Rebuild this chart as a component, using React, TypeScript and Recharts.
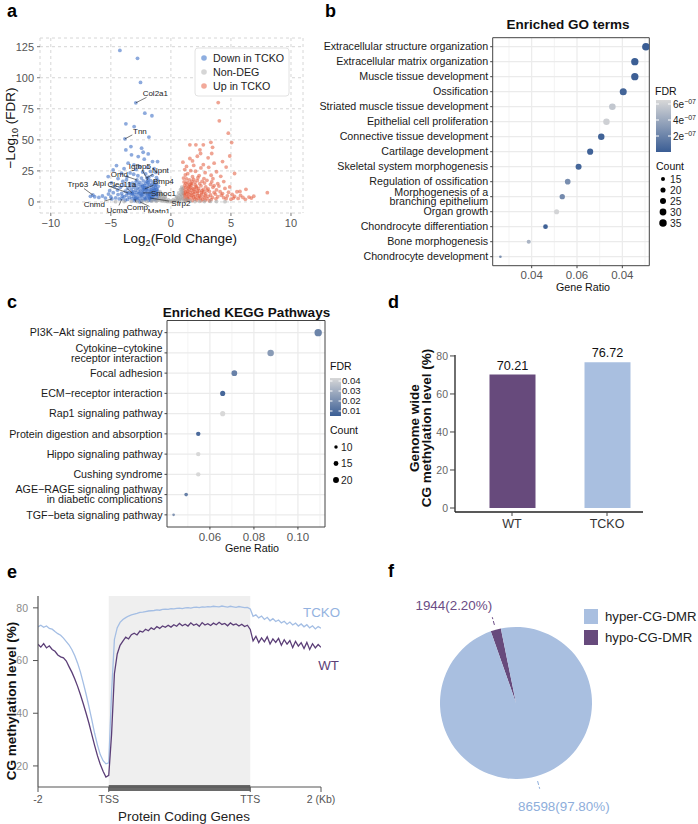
import React from 'react';
import {
  ScatterChart,
  Scatter,
  XAxis,
  YAxis,
  ZAxis,
  CartesianGrid,
  ReferenceArea,
  ReferenceLine,
  BarChart,
  Bar,
  LabelList,
  Cell,
  LineChart,
  Line,
  PieChart,
  Pie,
} from 'recharts';

const FONT = '"Liberation Sans", Arial, Helvetica, sans-serif';
const PURPLE = '#674a7c';
const LIGHT_BLUE = '#a9bfe0';

// ---------- a: volcano ----------
const FC_TICKS = [-10, -5, 0, 5, 10];
const LFDR_TICKS = [0, 25, 50, 75, 100, 125];

const DOWN_POINTS: [number, number][] = [
  [-4.25, 122], [-2.78, 115.6], [-2.53, 96.2], [-2.17, 71.5], [-1.58, 69.4], [-3.75, 62.9],
  [-3.06, 60.7], [-1.83, 52.2], [-3.33, 44.6], [-2.44, 43.3], [-2.31, 40], [-1.89, 38.7],
  [-3.28, 37.9], [-3.75, 41.9], [-2.72, 36.5], [-2.22, 34.4], [-1.53, 32.5], [-1.11, 32.5],
  [-4.53, 29.3], [-3.56, 31.2], [-3.08, 29.9], [-5.22, 20.4], [-4.81, 25.8], [-4.11, 23.1],
  [-2.6, 28.5], [-1.95, 27.8], [-1.4, 26.9], [-2.9, 26.2], [-3.9, 26.8], [-1.7, 24.6],
  [-2.35, 24.1], [-3.4, 23.4], [-1.25, 23.8], [-4.4, 18.8], [-3.1, 22.3], [-2.1, 22.6],
  [-1.55, 21.4], [-2.75, 21.1], [-3.65, 20.2], [-4.95, 15.3], [-1.2, 19.6], [-1.85, 19.9],
  [-2.45, 19.2],
  [-1.1, 17.5], [-1.4, 16.8], [-1.7, 17.2], [-2.0, 16.4], [-2.3, 16.9], [-2.6, 15.8],
  [-2.9, 16.2], [-3.2, 15.1], [-1.2, 14.6], [-1.5, 15.2], [-1.8, 14.3], [-2.1, 14.9],
  [-2.4, 13.8], [-2.7, 14.2], [-3.0, 13.4], [-3.4, 12.8], [-1.05, 12.6], [-1.3, 13.1],
  [-1.6, 12.2], [-1.9, 12.8], [-2.2, 11.7], [-2.5, 12.3], [-2.8, 11.4], [-3.1, 11.9],
  [-3.6, 10.8], [-1.15, 10.4], [-1.45, 11.0], [-1.75, 10.1], [-2.05, 10.7], [-2.35, 9.8],
  [-2.65, 10.3], [-2.95, 9.4], [-3.3, 9.9], [-3.8, 8.6], [-1.1, 8.5], [-1.35, 9.1],
  [-1.65, 8.2], [-1.95, 8.8], [-2.25, 7.9], [-2.55, 8.4], [-2.85, 7.6], [-3.15, 8.1],
  [-3.5, 7.3], [-4.1, 6.8], [-1.2, 6.6], [-1.5, 7.1], [-1.8, 6.3], [-2.1, 6.9],
  [-2.4, 6.0], [-2.7, 6.5], [-3.0, 5.8], [-3.3, 6.2], [-3.7, 5.4], [-4.4, 5.9],
  [-1.05, 4.8], [-1.3, 5.3], [-1.6, 4.5], [-1.9, 5.0], [-2.2, 4.2], [-2.5, 4.7],
  [-2.8, 4.0], [-3.1, 4.4], [-3.45, 3.7], [-3.9, 4.1], [-1.15, 3.0], [-1.45, 3.4],
  [-1.75, 2.7], [-2.05, 3.2], [-2.35, 2.5], [-2.65, 2.9], [-2.95, 2.2], [-3.25, 2.6],
  [-3.6, 2.0], [-1.25, 1.6], [-1.55, 1.9], [-1.85, 1.3], [-2.15, 1.7], [-2.45, 1.1],
  [-2.75, 1.5], [-3.05, 0.9], [-1.35, 14.0], [-1.65, 9.6], [-1.95, 6.0], [-2.2, 13.3],
  [-2.45, 5.4], [-1.25, 7.8], [-1.55, 3.9], [-2.0, 11.6], [-1.4, 10.0], [-1.7, 5.8],
  [-1.3, 11.8], [-1.6, 13.6], [-1.9, 15.6], [-2.3, 10.4], [-2.6, 7.2], [-1.15, 5.9],
  [-1.45, 6.4], [-1.75, 7.4], [-2.05, 9.4], [-2.35, 12.6], [-1.2, 9.8], [-1.5, 8.8],
  [-1.8, 4.0], [-2.1, 2.4], [-1.35, 2.3], [-1.65, 1.1], [-2.9, 3.3], [-3.2, 7.0],
  [-6.7, 4.5], [-6.35, 4.2], [-6.0, 3.6], [-5.7, 4.8], [-5.45, 3.1], [-5.2, 6.3],
  [-5.0, 4.0], [-4.8, 7.5], [-4.6, 3.2], [-4.45, 9.6], [-4.3, 2.4], [-4.2, 11.8],
  [-4.05, 4.6], [-3.95, 13.6], [-3.8, 1.5], [-4.7, 12.4], [-5.1, 9.1], [-4.0, 16.5],
  [-3.7, 17.8], [-3.45, 14.7],
];

const UP_POINTS: [number, number][] = [
  [3.94, 80], [4.03, 65.3], [4.78, 55.4], [3.33, 48], [1.58, 46], [2.08, 46], [2.7, 46],
  [3.47, 44], [5.06, 47.8], [2.42, 42], [2.47, 39], [3.4, 39], [4.9, 37], [1.58, 35],
  [1.8, 33], [1.0, 32], [2.7, 30], [3.1, 35.5], [2.2, 36.8], [1.3, 28.6], [1.9, 29.4],
  [3.6, 31.2], [4.3, 32.5], [2.5, 27.4], [3.15, 27.9], [1.15, 26.1], [1.65, 25.2],
  [2.05, 24.7], [4.6, 28.1], [3.8, 24.3], [2.85, 23.6], [1.4, 22.8], [5.3, 22.9],
  [3.35, 21.5], [2.35, 21.2], [4.15, 20.6], [1.8, 20.3],
  [1.05, 19.2], [1.3, 18.5], [1.55, 17.8], [1.9, 18.1], [2.2, 17.2], [2.6, 16.6],
  [3.0, 17.4], [1.1, 16.1], [1.4, 15.6], [1.7, 15.0], [2.0, 15.8], [2.4, 14.7],
  [2.8, 15.2], [3.3, 14.1], [1.15, 13.4], [1.45, 12.9], [1.75, 13.7], [2.1, 12.5],
  [2.5, 13.0], [2.9, 12.2], [3.5, 11.8], [1.05, 11.2], [1.35, 10.6], [1.65, 11.5],
  [1.95, 10.3], [2.3, 10.9], [2.7, 10.1], [3.1, 10.6], [3.8, 9.7], [1.1, 9.2],
  [1.4, 8.6], [1.7, 9.4], [2.0, 8.2], [2.35, 8.9], [2.75, 7.9], [3.2, 8.5],
  [3.6, 7.6], [4.1, 8.3], [1.05, 7.1], [1.3, 6.6], [1.6, 7.4], [1.9, 6.2],
  [2.2, 6.9], [2.55, 5.9], [2.9, 6.5], [3.3, 5.6], [3.7, 6.3], [4.2, 5.4],
  [1.15, 5.0], [1.45, 4.5], [1.75, 5.3], [2.05, 4.2], [2.4, 4.8], [2.75, 3.9],
  [3.1, 4.5], [3.45, 3.6], [3.9, 4.2], [4.4, 3.4], [1.1, 3.1], [1.4, 2.6],
  [1.7, 3.4], [2.0, 2.3], [2.3, 2.9], [2.65, 2.1], [3.0, 2.7], [3.35, 1.9],
  [3.75, 2.5], [1.2, 1.4], [1.5, 1.8], [1.8, 1.1], [2.15, 1.6], [2.5, 1.0],
  [2.85, 1.4], [3.2, 0.9], [1.25, 12.0], [1.6, 14.2], [2.25, 19.5], [2.75, 18.8],
  [3.4, 16.2], [1.2, 21.7], [1.5, 10.2], [1.85, 7.8], [2.15, 11.4], [1.35, 4.0],
  [2.6, 9.0], [1.75, 16.6], [2.45, 3.4], [1.2, 8.0], [3.0, 9.4], [2.05, 13.6],
  [1.3, 2.0], [1.6, 5.8], [1.9, 3.8], [2.25, 5.2], [2.55, 7.4], [2.85, 5.0],
  [1.25, 15.0], [1.55, 12.4], [1.85, 10.8], [2.2, 8.6], [1.1, 6.0], [1.4, 7.2],
  [4.0, 12.8], [4.5, 10.9], [4.8, 7.8], [5.1, 6.1], [5.3, 4.4], [5.5, 8.2],
  [5.75, 8.5], [6.0, 3.6], [6.25, 10.2], [6.5, 3.9], [6.9, 4.6], [8.03, 7.5],
  [4.6, 2.6], [5.0, 2.2], [5.6, 2.8], [6.2, 2.1], [6.7, 3.1], [3.9, 14.8],
  [4.3, 6.7], [4.7, 4.9], [5.2, 3.1], [5.8, 5.2], [3.6, 13.2], [4.9, 12.1],
  [3.5, 18.7], [4.4, 16.4],
];

const NON_DEG_POINTS: [number, number][] = [
  [-0.9, 1.2], [-0.7, 0.8], [-0.5, 0.5], [-0.3, 0.3], [-0.1, 0.2], [0.1, 0.2], [0.3, 0.4],
  [0.5, 0.6], [0.7, 1.0], [0.9, 1.5], [-0.95, 2.6], [-0.75, 2.0], [-0.55, 1.4], [-0.35, 0.9],
  [0.35, 1.1], [0.55, 1.7], [0.75, 2.3], [0.95, 3.1], [-0.95, 4.1], [-0.8, 3.4], [-0.6, 2.6],
  [0.6, 2.9], [0.8, 3.8], [0.95, 4.9], [-0.9, 5.6], [0.85, 6.1], [0.95, 7.4], [0.9, 8.6],
  [-0.85, 6.9], [0.8, 9.8], [0.95, 10.5], [0.7, 5.2], [-0.7, 4.8], [-0.45, 3.2], [0.45, 3.4],
  [-0.2, 1.6], [0.2, 1.8], [0, 0.9], [1.2, 0.4], [1.6, 0.6], [2.0, 0.3], [2.4, 0.5],
  [2.8, 0.3], [3.3, 0.4], [3.8, 0.3], [4.5, 0.2], [-1.2, 0.5], [-1.6, 0.7], [-2.0, 0.4],
  [-2.4, 0.6], [-2.8, 0.3], [-3.3, 0.4], [-3.9, 0.3], [-4.6, 0.2], [1.1, 1.2], [1.5, 1.0],
  [-1.1, 1.3], [-1.5, 1.1], [-1.3, 2.4], [1.3, 2.2], [0.65, 7.3], [-0.65, 6.1], [0.5, 4.4],
  [-0.5, 4.0], [0.9, 12.0], [-0.9, 8.2],
];

const GENE_NAMES = ['Col2a1', 'Tnn', 'Igfbp5', 'Omd', 'Npnt', 'Bmp4', 'Alpl', 'Clec11a', 'Trp63', 'Smoc1', 'Cnmd', 'Ucma', 'Comp', 'Matn1', 'Sfrp2'];
const GENE_FC = [-2.92, -3.83, -1.92, -2.83, -2.0, -2.17, -3.58, -3.25, -6.5, -2.33, -4.92, -4.08, -3.0, -2.58, -1.75];
const GENE_LFDR = [79.8, 50.8, 17.7, 17.7, 19.4, 10.5, 7.3, 7.3, 5.6, 7.3, 2.4, 2.4, 2.4, 0, 3.2];
// where each gene's text sits, in px from its point
const GENE_LABEL_OFFSET: Record<string, [number, number]> = {
  Col2a1: [19.5, -10], Tnn: [15, -8], Igfbp5: [-8, -14], Omd: [-17.5, -6], Npnt: [13.5, -8],
  Bmp4: [18.5, -8], Alpl: [-28.5, -10], Clec11a: [-10, -9], Trp63: [-15, -11], Smoc1: [20.5, 0],
  Cnmd: [-17.5, 5], Ucma: [-5, 11], Comp: [2.5, 8], Matn1: [19, 9], Sfrp2: [31, 5],
};

// ---------- b: GO ----------
const GO_TERMS = [
  'Extracellular structure organization',
  'Extracellular matrix organization',
  'Muscle tissue development',
  'Ossification',
  'Striated muscle tissue development',
  'Epithelial cell proliferation',
  'Connective tissue development',
  'Cartilage development',
  'Skeletal system morphogenesis',
  'Regulation of ossification',
  'Morphogenesis of a\nbranching epithelium',
  'Organ growth',
  'Chondrocyte differentiation',
  'Bone morphogenesis',
  'Chondrocyte development',
];
const GO_RATIO = [0.0904, 0.0855, 0.0855, 0.0804, 0.0756, 0.073, 0.0707, 0.0658, 0.0607, 0.0559, 0.0535, 0.051, 0.0461, 0.0387, 0.0262];
const GO_COUNT = [36, 34, 34, 32, 29, 28, 28, 26, 25, 23, 21, 20, 18, 15, 10];
const GO_FDR = [2e-9, 8e-9, 1.2e-8, 4e-8, 5.6e-7, 6.1e-7, 3e-8, 2.5e-8, 4.5e-8, 2.6e-7, 2.4e-7, 6.3e-7, 2e-8, 4.6e-7, 2.7e-7];
const GO_TICKS = [0.04, 0.06, 0.08];
const GO_TICK_LABELS = ['0.04', '0.06', '0.04'];
const GO_MINOR = [0.03, 0.05, 0.07, 0.09];
const GO_FDR_LEGEND = [6e-7, 4e-7, 2e-7];
const GO_FDR_LEGEND_LABELS = ['6e', '4e', '2e'];
const GO_COUNT_LEGEND = [15, 20, 25, 30, 35];

// ---------- c: KEGG ----------
const KEGG_TERMS = [
  'PI3K\u2212Akt signaling pathway',
  'Cytokine\u2212cytokine\nreceptor interaction',
  'Focal adhesion',
  'ECM\u2212receptor interaction',
  'Rap1 signaling pathway',
  'Protein digestion and absorption',
  'Hippo signaling pathway',
  'Cushing syndrome',
  'AGE\u2212RAGE signaling pathway\nin diabetic complications',
  'TGF\u2212beta signaling pathway',
];
const KEGG_RATIO = [0.1092, 0.0876, 0.0711, 0.0658, 0.0658, 0.0547, 0.0547, 0.0547, 0.0492, 0.0435];
const KEGG_COUNT = [22, 18, 15, 13, 13, 11, 11, 11, 9, 7];
const KEGG_FDR = [0.017, 0.024, 0.016, 0.008, 0.043, 0.009, 0.043, 0.043, 0.016, 0.022];
const KEGG_TICKS = [0.06, 0.08, 0.1];
const KEGG_TICK_LABELS = ['0.06', '0.08', '0.10'];
const KEGG_MINOR = [0.05, 0.07, 0.09, 0.11];
const KEGG_FDR_LEGEND = [0.04, 0.03, 0.02, 0.01];
const KEGG_COUNT_LEGEND = [10, 15, 20];

// ---------- d: bars ----------
const D_GROUPS = ['WT', 'TCKO'];
const D_VALUES = [70.21, 76.72];
const D_TICKS = [0, 20, 40, 60, 80];

// ---------- e: profile ----------
const E_TICKS = [0, 100, 300, 400];
const E_TICK_LABELS = ['-2', 'TSS', 'TTS', '2 (Kb)'];
const E_Y_TICKS = [20, 40, 60, 80];
const E_TCKO = [
  72.8, 73.4, 72.6, 73.1, 72.2, 71.9, 71.0, 70.2, 69.6, 68.5, 67.2, 65.9, 64.1, 61.8, 59.0, 55.6,
  51.5, 47.2, 42.5, 37.6, 32.4, 28.0, 24.3, 22.0, 20.8, 21.2,
  48.0, 68.0, 72.5, 74.5, 75.6, 76.3, 76.9, 77.3, 77.6, 77.9, 78.3, 78.4, 78.6, 78.8, 78.9, 79.0,
  79.2, 79.1, 79.4, 79.5, 79.4, 79.7, 79.6, 79.8, 79.9, 79.7, 80.0, 80.1, 79.9, 80.2, 80.3, 80.1,
  80.4, 80.3, 80.5, 80.4, 80.6, 80.5, 80.4, 80.7, 80.5, 80.3, 80.6, 80.4, 80.2, 80.5, 80.3, 80.1,
  80.2, 79.6,
  76.8, 77.4, 76.2, 76.9, 75.6, 76.4, 75.1, 75.9, 74.8, 75.4, 74.3, 74.9, 73.8, 74.6, 73.5, 74.2,
  73.1, 73.9, 72.8, 73.6, 72.4, 73.2, 72.0, 72.9, 72.3,
];
const E_WT = [
  66.2, 65.1, 66.4, 64.8, 65.6, 64.2, 63.5, 62.1, 61.4, 61.0, 59.8, 57.6, 55.5, 53.0, 50.2, 47.0,
  43.6, 40.0, 36.2, 32.0, 27.8, 23.9, 20.6, 18.0, 15.8, 16.4,
  32.0, 55.0, 62.5, 65.8, 67.4, 68.9, 68.2, 69.8, 70.4, 69.7, 71.2, 70.8, 71.9, 71.3, 72.4, 71.8,
  72.9, 72.2, 73.1, 72.6, 73.4, 72.7, 73.6, 73.0, 74.1, 73.2, 73.8, 73.1, 74.3, 73.4, 73.9, 73.0,
  74.4, 73.5, 74.0, 73.3, 74.2, 73.6, 74.5, 73.7, 74.1, 73.2, 74.3, 73.5, 73.9, 73.1, 73.8, 72.9,
  73.4, 71.8,
  67.5, 69.2, 66.8, 68.6, 67.1, 69.0, 66.3, 68.2, 66.9, 68.4, 65.8, 67.9, 66.2, 67.6, 64.9, 67.3,
  65.5, 66.8, 64.6, 66.9, 64.2, 66.4, 64.8, 66.1, 65.0,
];
const E_STEP = 4;

// ---------- f: pie ----------
const PIE_NAMES = ['hypo-CG-DMR', 'hyper-CG-DMR'];
const PIE_COUNTS = [1944, 86598];
const PIE_COLORS = [PURPLE, LIGHT_BLUE];
const PIE_TEXT_COLORS = ['#6b4c85', '#8eaedb'];

function hexToRgb(h: string) {
  const n = parseInt(h.slice(1), 16);
  return [(n >> 16) & 255, (n >> 8) & 255, n & 255];
}
function mix(a: string, b: string, t: number) {
  const A = hexToRgb(a);
  const B = hexToRgb(b);
  const c = A.map((v, i) => Math.round(v + (B[i] - v) * Math.max(0, Math.min(1, t))));
  return `rgb(${c[0]},${c[1]},${c[2]})`;
}
const FDR_LOW = '#3a5d94';
const FDR_HIGH = '#d8d8d8';
const minusFmt = (v: number) => (v < 0 ? `\u2212${-v}` : `${v}`);

const dot = (fill: string, opacity: number) => (sp: any) =>
  <circle cx={sp.cx} cy={sp.cy} r={1.9} fill={fill} fillOpacity={opacity} />;

function GeneLabel(props: any) {
  const { cx, cy, payload } = props;
  const [dx, dy] = GENE_LABEL_OFFSET[payload.name];
  const tx = cx + dx;
  const ty = cy + dy;
  const hw = payload.name.length * 2.2 + 1;
  const hh = 4.5;
  const vx = cx - tx;
  const vy = cy - ty;
  const s = Math.min(vx === 0 ? Infinity : hw / Math.abs(vx), vy === 0 ? Infinity : hh / Math.abs(vy));
  return (
    <g>
      {s < 1 && <line x1={cx} y1={cy} x2={tx + vx * s} y2={ty + vy * s} stroke="#222" strokeWidth={0.6} />}
      <text x={tx} y={ty + 2.8} textAnchor="middle" fontSize={8} fill="#222">
        {payload.name}
      </text>
    </g>
  );
}

function TermTick(props: any) {
  const { x, y, payload, labels, fontSize, lineGap } = props;
  const lines = String(labels[payload.value] ?? '').split('\n');
  const y0 = y - ((lines.length - 1) * lineGap) / 2 + fontSize * 0.35;
  return (
    <text x={x} y={y0} textAnchor="end" fontSize={fontSize} fill="#1a1a1a">
      {lines.map((l: string, i: number) => (
        <tspan key={i} x={x} dy={i === 0 ? 0 : lineGap}>
          {l}
        </tspan>
      ))}
    </text>
  );
}

function VolcanoPanel() {
  const toPts = (arr: [number, number][]) => arr.map(([fc, lfdr]) => ({ fc, lfdr }));
  const genes = GENE_NAMES.map((name, i) => ({ name, fc: GENE_FC[i], lfdr: GENE_LFDR[i] }));
  return (
    <ScatterChart width={320} height={250} margin={{ top: 38, right: 17, bottom: 17, left: 10 }}>
      <CartesianGrid stroke="#d6d6d6" strokeDasharray="3 3" />
      <XAxis
        type="number" dataKey="fc" domain={[-10.9, 11]} ticks={FC_TICKS} allowDataOverflow interval={0}
        axisLine={false} tickLine={{ stroke: '#777' }} tickSize={3} tickMargin={3} height={20}
        tick={{ fontSize: 11, fill: '#555' }} tickFormatter={minusFmt}
      />
      <YAxis
        type="number" dataKey="lfdr" domain={[-8.9, 132]} ticks={LFDR_TICKS} allowDataOverflow interval={0}
        axisLine={false} tickLine={{ stroke: '#777' }} tickSize={3} tickMargin={3} width={30}
        tick={{ fontSize: 11, fill: '#555' }}
      />
      <Scatter data={toPts(DOWN_POINTS).concat(genes)} shape={dot('#3a6cc4', 0.58)} isAnimationActive={false} />
      <Scatter data={toPts(UP_POINTS)} shape={dot('#e25a3a', 0.55)} isAnimationActive={false} />
      <Scatter data={toPts(NON_DEG_POINTS)} shape={dot('#a3a3a3', 0.55)} isAnimationActive={false} />
      <Scatter data={genes} shape={<GeneLabel />} isAnimationActive={false} />
    </ScatterChart>
  );
}

function DotPanel(p: {
  width: number; height: number; margin: any; yWidth: number;
  terms: string[]; ratio: number[]; count: number[]; fdr: number[];
  fdrMax: number; fdrMin: number; xDomain: [number, number];
  ticks: number[]; tickLabels: string[]; minor: number[];
  countDomain: [number, number]; sizeRange: [number, number];
  fontSize: number; lineGap: number;
}) {
  const n = p.terms.length;
  const data = p.terms.map((t, i) => ({ idx: i, ratio: p.ratio[i], count: p.count[i], fdr: p.fdr[i] }));
  const yDomain: [number, number] = [-0.6, n - 1 + 0.6];
  return (
    <ScatterChart width={p.width} height={p.height} margin={p.margin}>
      <CartesianGrid stroke="#ebebeb" strokeWidth={0.6} horizontal={false} verticalValues={p.minor} />
      <CartesianGrid stroke="#ebebeb" strokeWidth={1.2} verticalValues={p.ticks} horizontalValues={data.map((d) => d.idx)} />
      <XAxis
        type="number" dataKey="ratio" domain={p.xDomain} ticks={p.ticks} allowDataOverflow interval={0}
        axisLine={false} tickLine={{ stroke: '#444' }} tickSize={2.5} tickMargin={3} height={20}
        tick={{ fontSize: 11.5, fill: '#555' }} tickFormatter={(v: number, i: number) => p.tickLabels[i]}
      />
      <YAxis
        type="number" dataKey="idx" domain={yDomain} reversed allowDataOverflow interval={0}
        ticks={data.map((d) => d.idx)} axisLine={false} tickLine={{ stroke: '#444' }} tickSize={2.5}
        tickMargin={2} width={p.yWidth}
        tick={(tp: any) => <TermTick {...tp} labels={p.terms} fontSize={p.fontSize} lineGap={p.lineGap} />}
      />
      <ZAxis type="number" dataKey="count" domain={p.countDomain} range={p.sizeRange} />
      <Scatter data={data} isAnimationActive={false}>
        {data.map((d, i) => (
          <Cell key={i} fill={mix(FDR_LOW, FDR_HIGH, (d.fdr - p.fdrMin) / (p.fdrMax - p.fdrMin))} />
        ))}
      </Scatter>
      <ReferenceArea x1={p.xDomain[0]} x2={p.xDomain[1]} y1={yDomain[0]} y2={yDomain[1]} fill="none" stroke="#444" strokeWidth={1} />
    </ScatterChart>
  );
}

function BarPanel() {
  const data = D_GROUPS.map((g, i) => ({ group: g, value: D_VALUES[i] }));
  return (
    <BarChart width={338} height={260} data={data} margin={{ top: 65, right: 55, bottom: 13, left: 55 }}>
      <XAxis
        dataKey="group" padding={{ left: 9.5, right: -11.5 }} tickSize={4} tickMargin={3} height={25}
        axisLine={{ stroke: '#222', strokeWidth: 1.3 }} tickLine={{ stroke: '#444' }}
        tick={{ fontSize: 12.5, fill: '#333' }}
      />
      <YAxis
        type="number" domain={[-2.1, 80.5]} ticks={D_TICKS} allowDataOverflow interval={0} width={40}
        axisLine={{ stroke: '#222', strokeWidth: 1.3 }} tickLine={{ stroke: '#444' }} tickSize={5} tickMargin={2}
        tick={{ fontSize: 10.5, fill: '#666' }}
      />
      <Bar dataKey="value" barSize={46} isAnimationActive={false}>
        {data.map((d, i) => (
          <Cell key={i} fill={i === 0 ? PURPLE : LIGHT_BLUE} />
        ))}
        <LabelList dataKey="value" position="top" fill="#111" fontSize={12.7} formatter={(v: number) => v.toFixed(2)} />
      </Bar>
    </BarChart>
  );
}

function ProfilePanel() {
  const data = E_TCKO.map((v, i) => ({ pos: i * E_STEP, tcko: v, wt: E_WT[i] }));
  const last = data.length - 1;
  const endLabel = (name: string, color: string, dx: number, dy: number) => (lp: any) =>
    lp.index === last ? (
      <text x={lp.x + dx} y={lp.y + dy} textAnchor="end" fontSize={13.3} fill={color}>
        {name}
      </text>
    ) : (
      <g />
    );
  return (
    <LineChart width={360} height={264} data={data} margin={{ top: 36, right: 39, bottom: 15, left: 8 }}>
      <ReferenceArea x1={100} x2={300} y1={12} y2={84.5} fill="#efefef" fillOpacity={1} stroke="none" />
      <XAxis
        type="number" dataKey="pos" domain={[0, 400]} ticks={E_TICKS} allowDataOverflow interval={0}
        height={22} tickSize={5} tickMargin={4} axisLine={{ stroke: '#555', strokeWidth: 1.2 }}
        tickLine={{ stroke: '#555' }} tick={{ fontSize: 10.5, fill: '#555' }}
        tickFormatter={(v: number, i: number) => E_TICK_LABELS[i]}
      />
      <YAxis
        type="number" domain={[12, 84.5]} ticks={E_Y_TICKS} allowDataOverflow interval={0} width={30}
        tickSize={5} tickMargin={5} axisLine={{ stroke: '#555', strokeWidth: 1.2 }}
        tickLine={{ stroke: '#555' }} tick={{ fontSize: 10.5, fill: '#8a8a8a' }}
      />
      <ReferenceLine
        segment={[{ x: 100, y: 11.6 }, { x: 300, y: 11.6 }]} stroke="#6a6a6a" strokeWidth={6} ifOverflow="visible"
      />
      <Line
        dataKey="tcko" stroke="#a4bee4" strokeWidth={1.3} dot={false} isAnimationActive={false}
        label={endLabel('TCKO', '#93b2e0', 19, -11)}
      />
      <Line
        dataKey="wt" stroke="#5b3e77" strokeWidth={1.3} dot={false} isAnimationActive={false}
        label={endLabel('WT', '#5b3e77', 18, 22.6)}
      />
    </LineChart>
  );
}

function PiePanel() {
  const total = PIE_COUNTS.reduce((a, b) => a + b, 0);
  const data = PIE_NAMES.map((name, i) => ({ name, value: PIE_COUNTS[i] }));
  const RAD = Math.PI / 180;
  // label placement per slice: radius, px shift, anchor
  const layout = [
    { r: 97, dx: 2, dy: 0, anchor: 'end' },
    { r: 112, dx: 18, dy: 0, anchor: 'middle' },
  ];
  const renderLabel = (lp: any) => {
    const { cx, cy, midAngle, index, value } = lp;
    const ux = Math.cos(-midAngle * RAD);
    const uy = Math.sin(-midAngle * RAD);
    const L = layout[index];
    const color = PIE_TEXT_COLORS[index];
    const pct = ((value / total) * 100).toFixed(2);
    return (
      <g>
        <line x1={cx + ux * 81} y1={cy + uy * 81} x2={cx + ux * 89} y2={cy + uy * 89} stroke={color} strokeWidth={1} strokeDasharray="4 2" />
        <text x={cx + ux * L.r + L.dx} y={cy + uy * L.r + L.dy} textAnchor={L.anchor} fontSize={13.4} fill={color}>
          {`${value}(${pct}%)`}
        </text>
      </g>
    );
  };
  return (
    <PieChart width={338} height={264} margin={{ top: 0, right: 0, bottom: 0, left: 0 }}>
      <Pie
        data={data} dataKey="value" nameKey="name" cx={156} cy={143} outerRadius={76} innerRadius={0}
        startAngle={101.5} endAngle={461.5} stroke="none" label={renderLabel} labelLine={false}
        isAnimationActive={false}
      >
        {data.map((d, i) => (
          <Cell key={i} fill={PIE_COLORS[i]} />
        ))}
      </Pie>
    </PieChart>
  );
}

function Overlay() {
  const goCountR = (c: number) => Math.sqrt((5.5 + ((c - 10) / 26) * 39.5) / Math.PI);
  const keggCountR = (c: number) => Math.sqrt((5.5 + ((c - 7) / 15) * 37.5) / Math.PI) * 0.85;
  return (
    <svg width={698} height={824} style={{ position: 'absolute', left: 0, top: 0, pointerEvents: 'none' }}>
      <defs>
        <linearGradient id="fdrGrad" x1="0" y1="0" x2="0" y2="1">
          <stop offset="0" stopColor={FDR_HIGH} />
          <stop offset="1" stopColor={FDR_LOW} />
        </linearGradient>
      </defs>
      {/* panel letters */}
      <g fontWeight="bold" fontSize={18} fill="#000">
        <text x={7} y={16.5}>a</text>
        <text x={325} y={16.5}>b</text>
        <text x={7} y={308}>c</text>
        <text x={388} y={308}>d</text>
        <text x={7} y={578}>e</text>
        <text x={388} y={577}>f</text>
      </g>
      {/* a titles + legend */}
      <text transform="translate(14.5,128) rotate(-90)" textAnchor="middle" fontSize={13.5} fill="#111">
        {'\u2212Log'}
        <tspan fontSize={9} dy={3}>10</tspan>
        <tspan dy={-3}> (FDR)</tspan>
      </text>
      <text x={180} y={243} textAnchor="middle" fontSize={13.5} fill="#111">
        Log<tspan fontSize={9} dy={3}>2</tspan>
        <tspan dy={-3}>(Fold Change)</tspan>
      </text>
      <rect x={195} y={48} width={94} height={48} rx={3} fill="#fff" stroke="#e2e2e2" />
      {[
        ['Down in TCKO', '#8eaee0', 58],
        ['Non-DEG', '#d6d6d6', 72],
        ['Up in TCKO', '#f2a99a', 86],
      ].map(([t, c, y]) => (
        <g key={t as string}>
          <circle cx={204} cy={y as number} r={2.8} fill={c as string} />
          <text x={213} y={(y as number) + 3.8} fontSize={10.7} fill="#222">{t}</text>
        </g>
      ))}
      {/* b title + legend */}
      <text x={568} y={29} textAnchor="middle" fontWeight="bold" fontSize={13.5} fill="#111">Enriched GO terms</text>
      <text x={583} y={291} textAnchor="middle" fontSize={10.7} fill="#111">Gene Ratio</text>
      <text x={655} y={95} fontSize={10.5} fill="#111">FDR</text>
      <rect x={656} y={100} width={15} height={52} fill="url(#fdrGrad)" />
      {GO_FDR_LEGEND.map((v, i) => {
        const y = 152 - (v / 6.5e-7) * 52;
        return (
          <g key={i}>
            <line x1={656} x2={659} y1={y} y2={y} stroke="#fff" />
            <line x1={668} x2={671} y1={y} y2={y} stroke="#fff" />
            <text x={673} y={y + 3.6} fontSize={10} fill="#222">
              {GO_FDR_LEGEND_LABELS[i]}
              <tspan fontSize={7} dy={-4}>{'\u221207'}</tspan>
            </text>
          </g>
        );
      })}
      <text x={656} y={170} fontSize={10.5} fill="#111">Count</text>
      {GO_COUNT_LEGEND.map((c, i) => (
        <g key={c}>
          <circle cx={663} cy={179 + i * 11} r={goCountR(c)} fill="#000" />
          <text x={670} y={179 + i * 11 + 3.7} fontSize={10.3} fill="#222">{c}</text>
        </g>
      ))}
      {/* c title + legend */}
      <text x={246.5} y={316.5} textAnchor="middle" fontWeight="bold" fontSize={13.5} fill="#111">Enriched KEGG Pathways</text>
      <text x={252} y={552} textAnchor="middle" fontSize={10.7} fill="#111">Gene Ratio</text>
      <text x={330} y={370} fontSize={10.5} fill="#111">FDR</text>
      <rect x={330} y={378} width={11} height={38} fill="url(#fdrGrad)" />
      {KEGG_FDR_LEGEND.map((v) => {
        const y = 416 - ((v - 0.005) / 0.038) * 38;
        return (
          <g key={v}>
            <line x1={330} x2={332.5} y1={y} y2={y} stroke="#fff" />
            <line x1={338.5} x2={341} y1={y} y2={y} stroke="#fff" />
            <text x={342} y={y + 3.4} fontSize={9.6} fill="#222">{v.toFixed(2)}</text>
          </g>
        );
      })}
      <text x={330} y={434} fontSize={10.5} fill="#111">Count</text>
      {KEGG_COUNT_LEGEND.map((c, i) => (
        <g key={c}>
          <circle cx={336} cy={447 + i * 16.5} r={keggCountR(c)} fill="#000" />
          <text x={341} y={447 + i * 16.5 + 3.7} fontSize={10.3} fill="#222">{c}</text>
        </g>
      ))}
      {/* d y title */}
      <text transform="translate(418.5,428) rotate(-90)" textAnchor="middle" fontWeight="bold" fontSize={13.5} fill="#111">Genome wide</text>
      <text transform="translate(431,428) rotate(-90)" textAnchor="middle" fontWeight="bold" fontSize={13.5} fill="#111">CG methylation level (%)</text>
      {/* e titles */}
      <text transform="translate(15.5,701) rotate(-90)" textAnchor="middle" fontWeight="bold" fontSize={13.5} fill="#111">CG methylation level (%)</text>
      <text x={184} y={821} textAnchor="middle" fontSize={13.4} fill="#222">Protein Coding Genes</text>
      {/* f legend */}
      <rect x={584} y={609} width={14} height={15} fill={LIGHT_BLUE} />
      <rect x={584} y={630} width={14} height={15} fill={PURPLE} />
      <text x={605} y={621} fontSize={13.2} fill="#222">{PIE_NAMES[1]}</text>
      <text x={605} y={642} fontSize={13.2} fill="#222">{PIE_NAMES[0]}</text>
    </svg>
  );
}

export default function App() {
  return (
    <div style={{ position: 'absolute', left: 0, top: 0, width: 698, height: 824, background: '#fff', fontFamily: FONT, overflow: 'hidden' }}>
      <div style={{ position: 'absolute', left: 0, top: 0 }}>
        <VolcanoPanel />
      </div>
      <div style={{ position: 'absolute', left: 310, top: 0 }}>
        <DotPanel
          width={388} height={300} margin={{ top: 37.7, right: 48.7, bottom: 14.3, left: 22.7 }} yWidth={160}
          terms={GO_TERMS} ratio={GO_RATIO} count={GO_COUNT} fdr={GO_FDR} fdrMin={0} fdrMax={6.5e-7}
          xDomain={[0.0228, 0.0919]} ticks={GO_TICKS} tickLabels={GO_TICK_LABELS} minor={GO_MINOR}
          countDomain={[10, 36]} sizeRange={[5.5, 45]} fontSize={10.7} lineGap={9.6}
        />
      </div>
      <div style={{ position: 'absolute', left: 0, top: 290 }}>
        <DotPanel
          width={360} height={270} margin={{ top: 30.5, right: 35, bottom: 13, left: 5 }} yWidth={162}
          terms={KEGG_TERMS} ratio={KEGG_RATIO} count={KEGG_COUNT} fdr={KEGG_FDR} fdrMin={0.005} fdrMax={0.043}
          xDomain={[0.0405, 0.1123]} ticks={KEGG_TICKS} tickLabels={KEGG_TICK_LABELS} minor={KEGG_MINOR}
          countDomain={[7, 22]} sizeRange={[5.5, 43]} fontSize={10.7} lineGap={10}
        />
      </div>
      <div style={{ position: 'absolute', left: 360, top: 290 }}>
        <BarPanel />
      </div>
      <div style={{ position: 'absolute', left: 0, top: 560 }}>
        <ProfilePanel />
      </div>
      <div style={{ position: 'absolute', left: 360, top: 560 }}>
        <PiePanel />
      </div>
      <Overlay />
    </div>
  );
}
